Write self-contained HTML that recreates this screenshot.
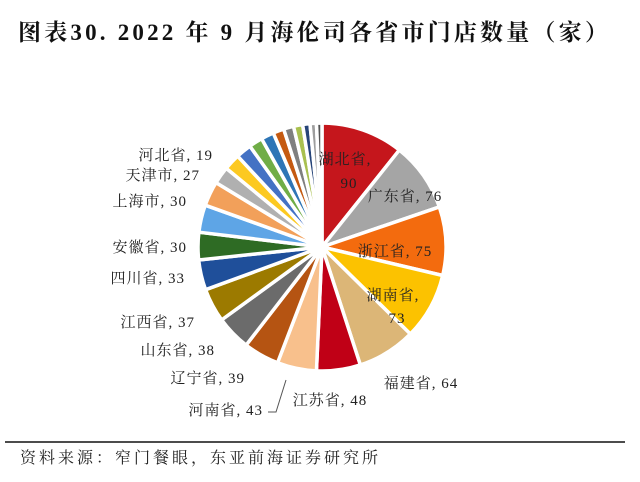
<!DOCTYPE html>
<html><head><meta charset="utf-8"><style>
html,body{margin:0;padding:0;background:#fff;}
body{width:640px;height:482px;overflow:hidden;position:relative;}
svg{position:absolute;left:0;top:0;}
text{font-family:"Liberation Serif","Noto Serif CJK SC",serif;font-size:15px;fill:#222;letter-spacing:1px;}
</style></head><body>
<svg id="s" width="640" height="482" xmlns="http://www.w3.org/2000/svg">
<text x="18" y="40" style="font-size:23px;font-weight:bold;fill:#111;letter-spacing:3.2px">图表30. 2022 年 9 月海伦司各省市门店数量（家）</text>
<g id="pie"></g>
<g text-anchor="middle">
<text x="345" y="164">湖北省,</text><text x="349" y="188">90</text>
<text x="405" y="201">广东省, 76</text>
<text x="395" y="256">浙江省, 75</text>
<text x="393" y="300">湖南省,</text><text x="397" y="323">73</text>
<text x="421" y="388">福建省, 64</text>
<text x="330" y="405">江苏省, 48</text>
</g>
<g text-anchor="end">
<text x="213" y="160">河北省, 19</text>
<text x="200" y="180">天津市, 27</text>
<text x="187" y="206">上海市, 30</text>
<text x="187" y="252">安徽省, 30</text>
<text x="185" y="283">四川省, 33</text>
<text x="195" y="327">江西省, 37</text>
<text x="215" y="355">山东省, 38</text>
<text x="245" y="383">辽宁省, 39</text>
<text x="263" y="415">河南省, 43</text>
</g>
<polyline points="268,412 276,412 286,380" fill="none" stroke="#555" stroke-width="1"/>
<line x1="5" y1="442" x2="625" y2="442" stroke="#111" stroke-width="1.5"/>
<text x="20" y="463" style="font-size:16px;letter-spacing:3px">资料来源：窄门餐眼，东亚前海证券研究所</text>
</svg>
<script>
var vals=[90,76,75,73,64,48,43,39,38,37,33,30,30,27,19,18,17,15,14,12,11,10,8,7,6];
var cols=["#c5161c","#a5a5a5","#f36b0e","#fcc200","#dcb677","#c00016","#f8c08c","#b55412","#6b6b6b","#9c7a00","#1f4f9a","#2e6b24","#5ea5e6","#f2a05a","#b0b0b0","#fcc921","#4472c4","#70ad47","#2e75b6","#c55a11","#7f7f7f","#a9c04f","#264478","#9e9e9e","#555"];
var tot=vals.reduce(function(a,b){return a+b},0),cx=322,cy=247,r=124,a=-Math.PI/2,h="";
for(var i=0;i<vals.length;i++){var d=vals[i]/tot*2*Math.PI,b=a+d;
var x1=cx+r*Math.cos(a),y1=cy+r*Math.sin(a),x2=cx+r*Math.cos(b),y2=cy+r*Math.sin(b);
h+='<path d="M'+cx+','+cy+'L'+x1.toFixed(2)+','+y1.toFixed(2)+'A'+r+','+r+' 0 '+(d>Math.PI?1:0)+' 1 '+x2.toFixed(2)+','+y2.toFixed(2)+'Z" fill="'+cols[i]+'" stroke="#fff" stroke-width="3.5" stroke-linejoin="round"/>';a=b;}
h+='<circle cx="'+cx+'" cy="'+cy+'" r="6" fill="#fff"/>';
document.getElementById("pie").innerHTML=h;
</script>
</body></html>
